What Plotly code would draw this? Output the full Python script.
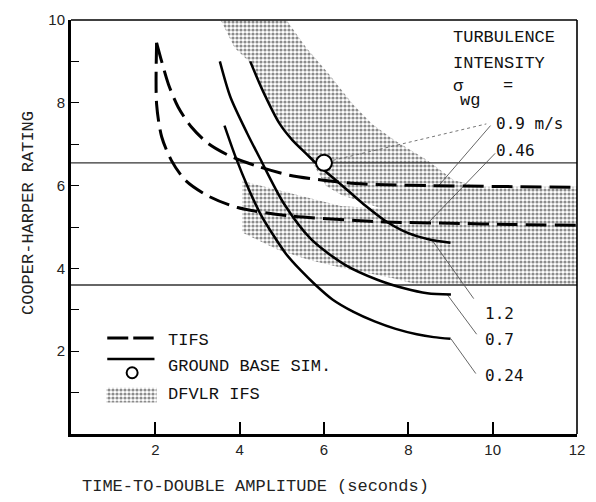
import plotly.graph_objects as go

# ---- data -------------------------------------------------------------
# TIFS in-flight simulator results (dashed)
tifs_090_x = [2.03, 2.15, 2.31, 2.54, 2.85, 3.25, 3.78, 4.41, 5.18, 5.98, 6.75, 7.45, 8.5, 10.0, 12.0]
tifs_090_y = [9.45, 9.00, 8.45, 7.90, 7.42, 7.02, 6.71, 6.47, 6.25, 6.13, 6.05, 6.02, 6.00, 5.98, 5.96]
tifs_046_x = [2.03, 2.03, 2.15, 2.38, 2.71, 3.25, 3.95, 5.18, 6.75, 7.45, 9.0, 10.5, 12.0]
tifs_046_y = [9.45, 7.97, 7.18, 6.61, 6.13, 5.75, 5.47, 5.27, 5.16, 5.12, 5.09, 5.06, 5.04]

# Ground-based simulator results (solid)
gbs_120_x = [4.25, 4.53, 4.95, 5.25, 5.60, 5.80, 6.20, 6.60, 7.00, 7.45, 8.00, 8.50, 9.00]
gbs_120_y = [9.00, 8.33, 7.49, 7.10, 6.75, 6.55, 6.20, 5.85, 5.50, 5.15, 4.85, 4.70, 4.62]
gbs_070_x = [3.53, 3.78, 4.18, 4.48, 5.04, 5.70, 6.51, 7.28, 7.90, 8.45, 9.01]
gbs_070_y = [9.00, 8.14, 7.26, 6.66, 5.58, 4.70, 4.08, 3.72, 3.52, 3.40, 3.37]
gbs_024_x = [3.64, 3.90, 4.20, 4.50, 4.80, 5.10, 5.45, 5.80, 6.20, 6.70, 7.20, 7.70, 8.20, 8.60, 9.00]
gbs_024_y = [7.45, 6.70, 5.95, 5.30, 4.80, 4.35, 3.95, 3.60, 3.25, 2.95, 2.72, 2.54, 2.41, 2.34, 2.30]

# Single ground-base point
gbs_point_x = [6.0]
gbs_point_y = [6.55]

# DFVLR in-flight simulator envelope
dfvlr_x = [3.55, 5.11, 5.58, 6.12, 6.68, 7.14, 7.68, 8.45, 9.08, 9.71, 12.0,
           12.0, 8.15, 7.61, 6.44, 5.65, 4.88, 4.06, 4.06, 5.35, 6.40, 7.38,
           6.40, 6.05, 5.70, 5.35, 4.98, 4.56, 4.27, 3.88, 3.55]
dfvlr_y = [10.0, 10.0, 9.33, 8.69, 7.97, 7.49, 7.09, 6.61, 6.13, 5.97, 5.97,
           3.60, 3.63, 3.77, 4.01, 4.20, 4.46, 4.87, 6.11, 5.78, 5.51, 5.44,
           5.78, 5.99, 6.60, 7.02, 7.49, 8.33, 8.95, 9.33, 10.0]

# Cooper-Harper level boundaries
ch_levels = [6.55, 3.6]

# Turbulence labels: text, label anchor, leader start on curve
turb_labels = ["0.9 m/s", "0.46", "1.2", "0.7", "0.24"]
turb_label_x = [10.02, 10.02, 9.78, 9.78, 9.78]
turb_label_y = [7.49, 6.85, 2.91, 2.29, 1.41]
leader_x0 = [8.73, 8.45, 8.55, 8.92, 9.01]
leader_y0 = [6.01, 5.08, 4.70, 3.37, 2.30]
leader_x1 = [9.95, 10.06, 9.55, 9.62, 9.60]
leader_y1 = [7.45, 6.78, 3.27, 2.41, 1.46]
# dotted leader from the single point to the 0.9 m/s label
point_leader_x = [6.21, 9.85]
point_leader_y = [6.61, 7.49]

x_ticks = [2, 4, 6, 8, 10, 12]
y_ticks = [1, 2, 3, 4, 5, 6, 7, 8, 9, 10]
y_ticktext = ["", "2", "", "4", "", "6", "", "8", "", "10"]

# ---- styles -----------------------------------------------------------
MONO = "Liberation Mono"
SANS_MONO = "DejaVu Sans Mono"
DASH = "21px,8px"
stipple = dict(shape=".", fgcolor="#1a1a1a", bgcolor="white", size=4, solidity=0.5)

fig = go.Figure()

# envelope
fig.add_trace(go.Scatter(x=dfvlr_x, y=dfvlr_y, mode="lines", fill="toself",
                         fillcolor="white", fillpattern=stipple,
                         line=dict(width=0), hoverinfo="skip"))

# level boundaries
for lv in ch_levels:
    fig.add_trace(go.Scatter(x=[0, 12], y=[lv, lv], mode="lines",
                             line=dict(color="#333", width=1.4), hoverinfo="skip"))

# leaders
for i in range(len(turb_labels)):
    fig.add_trace(go.Scatter(x=[leader_x0[i], leader_x1[i]], y=[leader_y0[i], leader_y1[i]],
                             mode="lines", line=dict(color="#555", width=0.9)))
fig.add_trace(go.Scatter(x=point_leader_x, y=point_leader_y, mode="lines",
                         line=dict(color="#666", width=0.9, dash="dot")))

# curves
for xs, ys in [(tifs_090_x, tifs_090_y), (tifs_046_x, tifs_046_y)]:
    fig.add_trace(go.Scatter(x=xs, y=ys, mode="lines",
                             line=dict(color="black", width=3, dash=DASH, shape="spline",
                                       smoothing=0.8)))
for xs, ys in [(gbs_120_x, gbs_120_y), (gbs_070_x, gbs_070_y), (gbs_024_x, gbs_024_y)]:
    fig.add_trace(go.Scatter(x=xs, y=ys, mode="lines",
                             line=dict(color="black", width=2.5, shape="spline", smoothing=0.8)))

fig.add_trace(go.Scatter(x=gbs_point_x, y=gbs_point_y, mode="markers",
                         marker=dict(size=16, color="white", line=dict(color="black", width=2))))

# ---- legend (drawn inside the axes) ----------------------------------
leg_text_x = 2.26
fig.add_trace(go.Scatter(x=[0.86, 1.96], y=[2.32, 2.32], mode="lines",
                         line=dict(color="black", width=3, dash="21px,5px")))
fig.add_trace(go.Scatter(x=[0.86, 1.98], y=[1.81, 1.81], mode="lines",
                         line=dict(color="black", width=2.5)))
fig.add_trace(go.Scatter(x=[1.45], y=[1.48], mode="markers",
                         marker=dict(size=11, color="white", line=dict(color="black", width=2))))
fig.add_trace(go.Scatter(x=[0.84, 2.03, 2.03, 0.84, 0.84], y=[1.12, 1.12, 0.76, 0.76, 1.12],
                         mode="lines", fill="toself", fillcolor="white", fillpattern=stipple,
                         line=dict(width=0)))
legend_items = [("TIFS", 2.27), ("GROUND BASE SIM.", 1.62), ("DFVLR IFS", 0.95)]

annotations = []
for txt, yy in legend_items:
    annotations.append(dict(x=leg_text_x, y=yy, text=txt, showarrow=False, xanchor="left",
                            yanchor="middle", font=dict(family=MONO, size=17, color="#111")))

# turbulence heading
for txt, xx, yy, sz in [("TURBULENCE", 9.01, 9.57, 17), ("INTENSITY", 9.01, 8.95, 17),
                        ("σ", 9.01, 8.40, 17), ("wg", 9.17, 8.05, 17), ("=", 10.2, 8.42, 17)]:
    annotations.append(dict(x=xx, y=yy, text=txt, showarrow=False, xanchor="left",
                            yanchor="middle", font=dict(family=MONO, size=sz, color="#111")))

for i, txt in enumerate(turb_labels):
    annotations.append(dict(x=turb_label_x[i], y=turb_label_y[i], text=txt, showarrow=False,
                            xanchor="left", yanchor="middle",
                            font=dict(family=SANS_MONO, size=16, color="#111")))

# axis titles
annotations.append(dict(xref="paper", yref="paper", x=0.364, y=-0.126,
                        text="TIME-TO-DOUBLE AMPLITUDE (seconds)", showarrow=False,
                        xanchor="center", yanchor="middle",
                        font=dict(family=MONO, size=17, color="#222")))
annotations.append(dict(xref="paper", yref="paper", x=-0.084, y=0.535,
                        text="COOPER-HARPER RATING", showarrow=False, textangle=-90,
                        xanchor="center", yanchor="middle",
                        font=dict(family=MONO, size=17, color="#222")))

fig.update_layout(
    width=596, height=502,
    margin=dict(l=71, r=11, t=15, b=68),
    paper_bgcolor="white", plot_bgcolor="white",
    showlegend=False,
    annotations=annotations,
    shapes=[
        dict(type="line", xref="paper", yref="paper", x0=0, x1=1, y0=1, y1=1,
             line=dict(color="black", width=1.6)),
        dict(type="line", xref="paper", yref="paper", x0=1, x1=1, y0=0, y1=1,
             line=dict(color="black", width=1.6)),
    ],
)
fig.update_xaxes(range=[0, 12], tickvals=x_ticks, ticks="inside", ticklen=12, tickwidth=1.5,
                 tickcolor="black", showline=True, linewidth=3, linecolor="black",
                 showgrid=False, zeroline=False,
                 tickfont=dict(family="Liberation Sans", size=15, color="#222"))
fig.update_yaxes(range=[0, 10], tickvals=y_ticks, ticktext=y_ticktext, ticks="inside",
                 ticklen=8, tickwidth=1.3, tickcolor="black", showline=True, linewidth=3,
                 linecolor="black", showgrid=False, zeroline=False,
                 tickfont=dict(family="Liberation Sans", size=15, color="#222"))

fig.write_html("out.html")
